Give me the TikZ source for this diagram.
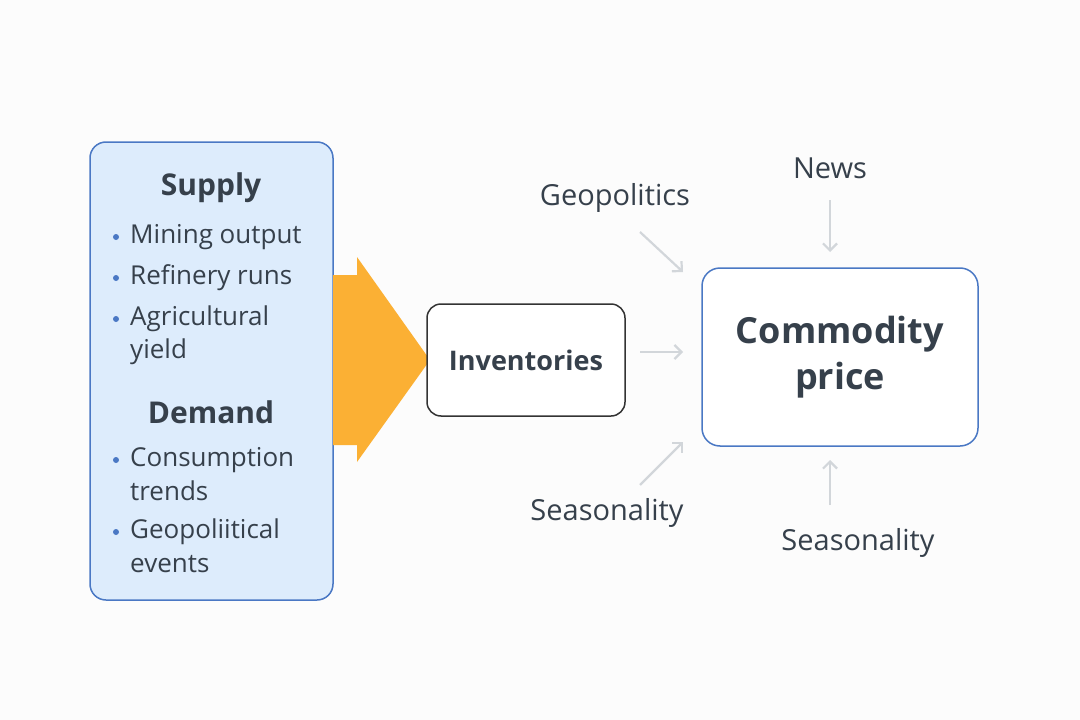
\documentclass[tikz,border=0pt]{standalone}
\usepackage{fontspec}
\setmainfont{Open Sans}
\usetikzlibrary{arrows.meta}
\definecolor{bl}{HTML}{4A78C4}
\definecolor{tx}{HTML}{36404B}
\definecolor{lb}{HTML}{DDECFC}
\definecolor{or}{HTML}{FBB034}
\definecolor{ag}{HTML}{D2D6DA}
\begin{document}
\begin{tikzpicture}[x=1pt,y=-1pt,
  txt/.style={anchor=west,inner sep=0,font=\fontsize{26}{26}\selectfont,text=tx},
  lbl/.style={inner sep=0,font=\fontsize{29}{29}\selectfont,text=tx},
  ga/.style={draw=ag,line width=2.2pt,-{Straight Barb[length=7pt,width=14pt]}},
  bul/.style={circle,fill=bl,inner sep=0,minimum size=6pt}]
\useasboundingbox (0,0) rectangle (1080,720);
\fill[white!98!gray] (0,0) rectangle (1080,720);
\node[draw=bl,fill=lb,line width=1.5pt,rounded corners=16pt,minimum width=243pt,minimum height=458pt] (L) at (211.5,371) {};
\fill[or] (333,275) -- (357,275) -- (357,257) -- (430,360) -- (357,462) -- (357,445) -- (333,445) -- cycle;
\node[lbl,font=\fontsize{30}{30}\selectfont\bfseries] (s) at (211,188) {Supply};
\node[lbl,font=\fontsize{30}{30}\selectfont\bfseries] (d) at (211,412) {Demand};
\foreach \y/\t in {237/Mining output,278/Refinery runs,319/Agricultural,352/yield,460/Consumption,491/trends,532/Geopoliitical,564/events}
  \node[txt] at (130,\y) {\t};
\foreach \y in {237,278,319,460,532} \node[bul] at (116,\y) {};
\node[draw=black!80,fill=white,line width=1.5pt,rounded corners=14pt,minimum width=198pt,minimum height=112pt,font=\fontsize{27}{27}\selectfont\bfseries,text=tx] (I) at (526,360) {Inventories};
\node[draw=bl,fill=white,line width=1.5pt,rounded corners=18pt,minimum width=276pt,minimum height=178pt,align=center,font=\fontsize{36}{46}\selectfont\bfseries,text=tx] (P) at (840,357) {Commodity\\price};
\node[lbl] (g) at (615,198) {Geopolitics};
\node[lbl] (n) at (830,168) {News};
\node[lbl] (s1) at (607,513) {Seasonality};
\node[lbl] (s2) at (858,543) {Seasonality};
\coordinate (a1) at (640,232); \coordinate (b1) at (683,272);
\coordinate (a2) at (640,352); \coordinate (b2) at (683,352);
\coordinate (a3) at (640,485); \coordinate (b3) at (683,442);
\coordinate (a4) at (830,200); \coordinate (b4) at (830,252);
\coordinate (a5) at (830,505); \coordinate (b5) at (830,460);
\foreach \i in {1,...,5} \draw[ga] (a\i) -- (b\i);
\end{tikzpicture}
\end{document}
